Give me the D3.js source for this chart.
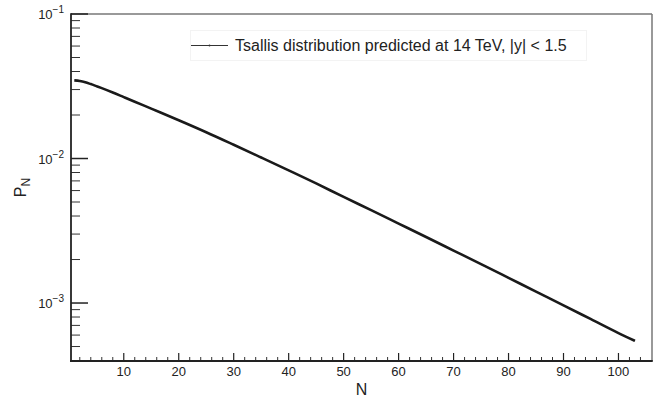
<!DOCTYPE html>
<html>
<head>
<meta charset="utf-8">
<script src="https://cdn.jsdelivr.net/npm/d3@7"></script>
<style>
  html, body { margin: 0; padding: 0; background: #fff; }
  svg { display: block; font-family: "Liberation Sans", Arial, Helvetica, sans-serif; }
</style>
</head>
<body>
<svg id="chart" width="672" height="398"></svg>
<script>
// Multiplicity N and predicted probability P_N
const nValues = [1, 2, 3, 4, 5, 6, 8, 10, 12, 15, 20, 25, 30, 35, 40, 45, 50, 55, 60, 65, 70, 75, 80, 85, 90, 95, 100, 103];
const pValues = [0.03475, 0.03443, 0.03373, 0.03273, 0.03170, 0.03069, 0.02864, 0.02661, 0.02472, 0.02213,
                 0.01841, 0.01521, 0.01245, 0.01016, 0.00828, 0.00673, 0.00542, 0.004395, 0.003548, 0.002864,
                 0.002307, 0.001858, 0.001493, 0.001199, 0.0009638, 0.0007727, 0.0006194, 0.000547];
const xTickValues = [10, 20, 30, 40, 50, 60, 70, 80, 90, 100];
const yDecades = [1e-1, 1e-2, 1e-3];
const yDecadeExponents = ["−1", "−2", "−3"];
const legendLabel = "Tsallis distribution predicted at 14 TeV, |y| < 1.5";
const xTitle = "N";

const svg = d3.select("#chart");
const mLeft = 71, mRight = 652, mTop = 14, mBottom = 361;

const x = d3.scaleLinear().domain([0.4, 106.1]).range([mLeft, mRight]);
const y = d3.scaleLog().domain([3.97e-4, 0.1]).range([mBottom, mTop]);

// frame: top/right in grey, axes in black
svg.append("line").attr("x1", mLeft).attr("x2", mRight).attr("y1", mTop).attr("y2", mTop)
  .attr("stroke", "#777").attr("stroke-width", 1.5);
svg.append("line").attr("x1", mRight).attr("x2", mRight).attr("y1", mTop).attr("y2", mBottom)
  .attr("stroke", "#777").attr("stroke-width", 1.5);

// x ticks (inside, pointing up)
const xMinor = d3.range(2, 106, 2).filter(v => v % 10 !== 0);
svg.append("g").selectAll("line").data(xMinor).join("line")
  .attr("x1", d => x(d)).attr("x2", d => x(d))
  .attr("y1", mBottom).attr("y2", mBottom - 4)
  .attr("stroke", "#333").attr("stroke-width", 1);
svg.append("g").selectAll("line").data(xTickValues).join("line")
  .attr("x1", d => x(d)).attr("x2", d => x(d))
  .attr("y1", mBottom).attr("y2", mBottom - 8)
  .attr("stroke", "#222").attr("stroke-width", 1.2);
svg.append("g").selectAll("text").data(xTickValues).join("text")
  .attr("x", d => x(d)).attr("y", mBottom + 15)
  .attr("text-anchor", "middle").attr("font-size", 13).attr("fill", "#222")
  .text(d => d);

// y ticks (inside, pointing right)
const yMinor = [];
[1e-4, 1e-3, 1e-2].forEach(dec => {
  for (let k = 2; k <= 9; k++) {
    const v = dec * k;
    if (v >= 3.97e-4 && v < 0.1) yMinor.push(v);
  }
});
svg.append("g").selectAll("line").data(yMinor).join("line")
  .attr("x1", mLeft).attr("x2", mLeft + 9)
  .attr("y1", d => y(d)).attr("y2", d => y(d))
  .attr("stroke", "#333").attr("stroke-width", 1);
svg.append("g").selectAll("line").data(yDecades).join("line")
  .attr("x1", mLeft).attr("x2", mLeft + 17)
  .attr("y1", d => y(d)).attr("y2", d => y(d))
  .attr("stroke", "#222").attr("stroke-width", 1.5);

const yLab = svg.append("g").selectAll("text").data(yDecades).join("text")
  .attr("x", mLeft - 7).attr("y", d => y(d) + 5)
  .attr("text-anchor", "end").attr("font-size", 13).attr("fill", "#222");
yLab.append("tspan").text("10");
yLab.append("tspan").attr("dy", -6).attr("font-size", 10).text((d, i) => yDecadeExponents[i]);

// axes lines
svg.append("line").attr("x1", mLeft).attr("x2", mLeft).attr("y1", mTop - 0.75).attr("y2", mBottom + 1)
  .attr("stroke", "#222").attr("stroke-width", 1.8);
svg.append("line").attr("x1", mLeft - 0.9).attr("x2", mRight + 0.75).attr("y1", mBottom).attr("y2", mBottom)
  .attr("stroke", "#222").attr("stroke-width", 1.8);

// axis titles
svg.append("text").attr("x", (mLeft + mRight) / 2).attr("y", 395)
  .attr("text-anchor", "middle").attr("font-size", 16).attr("fill", "#222").text(xTitle);
const yt = svg.append("text")
  .attr("transform", `translate(26, ${(mTop + mBottom) / 2}) rotate(-90)`)
  .attr("text-anchor", "middle").attr("font-size", 16).attr("fill", "#222");
yt.append("tspan").text("P");
yt.append("tspan").attr("dy", 4).attr("font-size", 12).text("N");

// curve
const line = d3.line()
  .x((d, i) => x(nValues[i]))
  .y(d => y(d))
  .curve(d3.curveMonotoneX);
svg.append("path").datum(pValues)
  .attr("d", line)
  .attr("fill", "none").attr("stroke", "#1a1a1a").attr("stroke-width", 2.6)
  .attr("stroke-linejoin", "round");

// legend
const lg = svg.append("g");
lg.append("rect").attr("x", 190.5).attr("y", 30.5).attr("width", 396).attr("height", 30)
  .attr("fill", "#fff").attr("stroke", "#f3f3f3").attr("stroke-width", 1);
lg.append("line").attr("x1", 191).attr("x2", 228).attr("y1", 45.5).attr("y2", 45.5)
  .attr("stroke", "#333").attr("stroke-width", 1.2);
lg.append("circle").attr("cx", 209.5).attr("cy", 45.5).attr("r", 0.9).attr("fill", "#333");
lg.append("text").attr("x", 235).attr("y", 51)
  .attr("font-size", 16).attr("fill", "#222").text(legendLabel);
</script>
</body>
</html>
